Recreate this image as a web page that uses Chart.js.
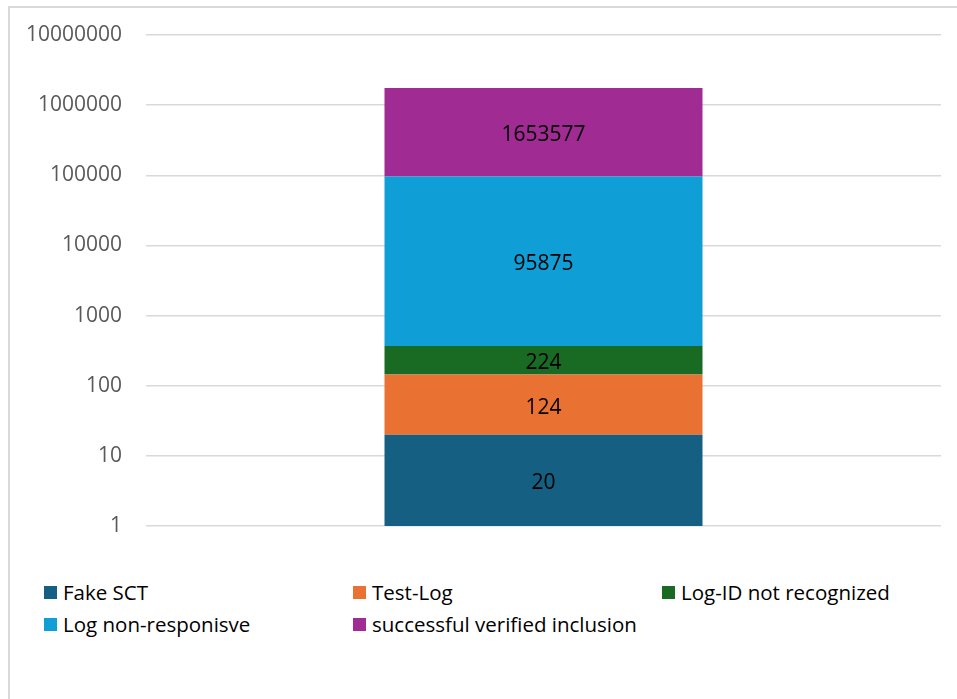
<!DOCTYPE html>
<html>
<head>
<meta charset="utf-8">
<script src="https://cdn.jsdelivr.net/npm/chart.js@4"></script>
<style>
  body { margin: 0; background: #fff; font-family: "Open Sans", sans-serif; }
  .frame { position: absolute; left: 8px; top: 6px; width: 960px; height: 700px; border: 2px solid #d9d9d9; box-sizing: border-box; }
  .chart-container { position: absolute; left: 0; top: 0; width: 957px; height: 560px; }
  #legend { position: absolute; left: 44px; top: 576px; display: grid; grid-template-columns: 309px 309px 309px; grid-auto-rows: 32px; font-size: 20.5px; color: #000; }
  #legend span.item { display: flex; align-items: center; white-space: nowrap; }
  #legend span.box { width: 13px; height: 13px; margin-right: 6px; display: inline-block; }
</style>
</head>
<body>
<div class="frame"></div>
<div class="chart-container"><canvas id="myChart"></canvas></div>
<div id="legend"></div>
<script>
// series (one stacked bar, bottom to top)
const categories = [""];
const seriesNames = ["Fake SCT", "Test-Log", "Log-ID not recognized", "Log non-responisve", "successful verified inclusion"];
const fakeSct = [20];
const testLog = [124];
const logIdNotRecognized = [224];
const logNonResponsive = [95875];
const verifiedInclusion = [1653577];
const seriesColors = ["#156082", "#E97132", "#196B24", "#0F9ED5", "#A02B93"];
const yTicks = [1, 10, 100, 1000, 10000, 100000, 1000000, 10000000];

const seriesValues = [fakeSct, testLog, logIdNotRecognized, logNonResponsive, verifiedInclusion];

const barLabels = {
    id: "barLabels",
    afterDatasetsDraw(chart) {
        const ctx = chart.ctx;
        ctx.save();
        ctx.font = '21px "Open Sans", sans-serif';
        ctx.fillStyle = "#000";
        ctx.textAlign = "center";
        ctx.textBaseline = "middle";
        chart.data.datasets.forEach((ds, i) => {
            chart.getDatasetMeta(i).data.forEach((bar, j) => {
                const c = bar.getCenterPoint();
                ctx.fillText(String(ds.data[j]), c.x, c.y + 3);
            });
        });
        ctx.restore();
    }
};

new Chart(document.getElementById("myChart").getContext("2d"), {
    type: "bar",
    data: {
        labels: categories,
        datasets: seriesNames.map((name, i) => ({
            label: name,
            data: seriesValues[i],
            backgroundColor: seriesColors[i],
            barPercentage: 0.5,
            categoryPercentage: 0.8
        }))
    },
    options: {
        responsive: true,
        maintainAspectRatio: false,
        animation: false,
        layout: {
            padding: { left: 0, right: 16, top: 35, bottom: 34 }
        },
        plugins: {
            legend: { display: false },
            tooltip: { enabled: false }
        },
        scales: {
            x: { stacked: true, display: false },
            y: {
                type: "logarithmic",
                stacked: true,
                min: 1,
                max: 10000000,
                border: { display: false },
                grid: { color: "#d9d9d9", lineWidth: 1.5, drawTicks: false },
                ticks: {
                    color: "#595959",
                    padding: 24,
                    font: { family: "Open Sans", size: 21 },
                    callback: v => String(v)
                },
                afterBuildTicks: scale => { scale.ticks = yTicks.map(v => ({ value: v })); },
                afterFit: scale => {
                    scale.width = 146;
                    scale.paddingTop = 0;
                    scale.paddingBottom = 0;
                }
            }
        }
    },
    plugins: [barLabels]
});

const legend = document.getElementById("legend");
seriesNames.forEach((name, i) => {
    const item = document.createElement("span");
    item.className = "item";
    item.innerHTML = '<span class="box" style="background:' + seriesColors[i] + '"></span>' + name;
    legend.appendChild(item);
});
</script>
</body>
</html>
